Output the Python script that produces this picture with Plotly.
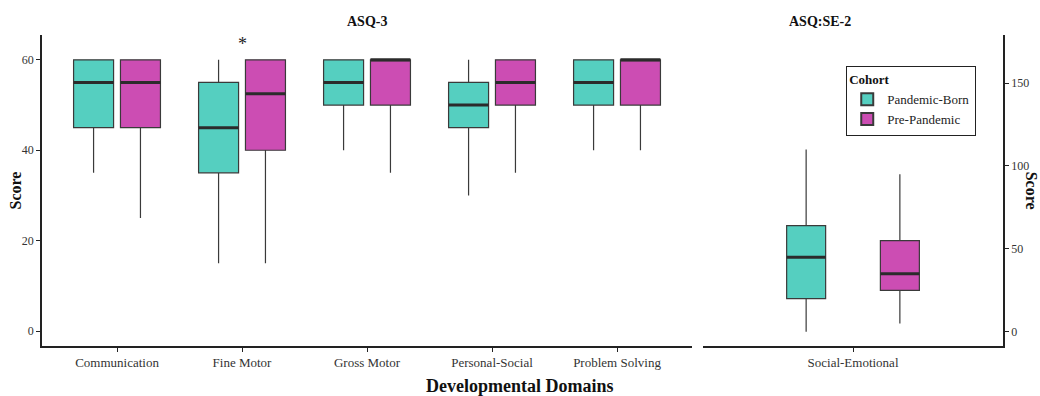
import plotly.graph_objects as go

# ---------------- data ----------------
asq3_domains = ["Communication", "Fine Motor", "Gross Motor", "Personal-Social", "Problem Solving"]
se_domains = ["Social-Emotional"]
cohorts = ["Pandemic-Born", "Pre-Pandemic"]

# ASQ-3 box statistics (per domain)
pb_low = [35, 15, 40, 30, 40]
pb_q1 = [45, 35, 50, 45, 50]
pb_med = [55, 45, 55, 50, 55]
pb_q3 = [60, 55, 60, 55, 60]
pb_high = [60, 60, 60, 60, 60]

pp_low = [25, 15, 35, 35, 40]
pp_q1 = [45, 40, 50, 50, 50]
pp_med = [55, 52.5, 60, 55, 60]
pp_q3 = [60, 60, 60, 60, 60]
pp_high = [60, 60, 60, 60, 60]

# ASQ:SE-2 box statistics
se_pb = dict(low=[0], q1=[20], med=[45], q3=[64], high=[110])
se_pp = dict(low=[5], q1=[25], med=[35], q3=[55], high=[95])

sig_domain = "Fine Motor"
sig_label = "*"

# ---------------- styling ----------------
teal = "#55CFC0"
magenta = "#CC4DB3"
edge = "#3a3a3a"
FONT = "Liberation Serif"
dodge = 0.1875
w_left = 0.32
w_right = 0.156

fig = go.Figure()


def add_boxes(n, stats, name, color, xaxis, yaxis, offset, width, show):
    xs = [i + offset for i in range(n)]
    fig.add_trace(go.Box(
        x=xs, q1=stats["q1"], median=stats["med"], q3=stats["q3"],
        lowerfence=stats["low"], upperfence=stats["high"],
        width=width, whiskerwidth=0, name=name, legendgroup=name,
        showlegend=show, fillcolor=color,
        line=dict(color=edge, width=1.2),
        xaxis=xaxis, yaxis=yaxis, boxpoints=False, hoverinfo="skip",
    ))
    # thicker median segments (ggplot style)
    mx, my = [], []
    for x, m in zip(xs, stats["med"]):
        mx += [x - width / 2, x + width / 2, None]
        my += [m, m, None]
    fig.add_trace(go.Scatter(x=mx, y=my, mode="lines",
                             line=dict(color="#2b2b2b", width=3),
                             showlegend=False, hoverinfo="skip",
                             xaxis=xaxis, yaxis=yaxis))


pb_left = dict(low=pb_low, q1=pb_q1, med=pb_med, q3=pb_q3, high=pb_high)
pp_left = dict(low=pp_low, q1=pp_q1, med=pp_med, q3=pp_q3, high=pp_high)

add_boxes(len(asq3_domains), pb_left, cohorts[0], teal, "x", "y", -dodge, w_left, True)
add_boxes(len(asq3_domains), pp_left, cohorts[1], magenta, "x", "y", dodge, w_left, True)
add_boxes(len(se_domains), se_pb, cohorts[0], teal, "x2", "y2", -dodge, w_right, False)
add_boxes(len(se_domains), se_pp, cohorts[1], magenta, "x2", "y2", dodge, w_right, False)

axis_common = dict(showline=True, linecolor="#222", linewidth=1.5, ticks="outside",
                   ticklen=4, tickcolor="#222", showgrid=False, zeroline=False,
                   automargin=False,
                   tickfont=dict(family=FONT, size=12, color="#333"))
xfont = dict(family=FONT, size=13, color="#333")

fig.update_layout(
    width=1040, height=396,
    margin=dict(l=0, r=0, t=35, b=50),
    paper_bgcolor="white", plot_bgcolor="white",
    font=dict(family=FONT, color="#222"),
    xaxis=dict(domain=[0.0404, 0.6654], range=[-0.6, len(asq3_domains) - 0.4],
               tickvals=list(range(len(asq3_domains))), ticktext=asq3_domains,
               anchor="y", **{**axis_common, "tickfont": xfont}),
    yaxis=dict(range=[-3.3, 65.5], tickvals=[0, 20, 40, 60], anchor="x",
               **axis_common),
    xaxis2=dict(domain=[0.676, 0.9644], range=[-0.6, 0.6],
                tickvals=[0], ticktext=se_domains, anchor="y2",
                **{**axis_common, "tickfont": xfont}),
    yaxis2=dict(range=[-8.6, 179], tickvals=[0, 50, 100, 150], anchor="x2", side="right",
                **axis_common),
    legend=dict(x=0.8135, y=0.90, xanchor="left", yanchor="top",
                bordercolor="#222", borderwidth=1.2, bgcolor="white",
                title=dict(text="<b>Cohort</b>", font=dict(family=FONT, size=13, color="#111")),
                font=dict(family=FONT, size=13, color="#222"),
                tracegroupgap=0, itemsizing="constant"),
    showlegend=True,
)

fig.add_annotation(text="<b>ASQ-3</b>", xref="paper", yref="paper", x=0.353, y=1.0,
                   yshift=23, showarrow=False, font=dict(family=FONT, size=14, color="#111"))
fig.add_annotation(text="<b>ASQ:SE-2</b>", xref="paper", yref="paper", x=0.82, y=1.0,
                   yshift=23, showarrow=False, font=dict(family=FONT, size=14, color="#111"))
fig.add_annotation(text="<b>Developmental Domains</b>", xref="paper", yref="paper", x=0.5,
                   y=0, yshift=-28, yanchor="top", showarrow=False,
                   font=dict(family=FONT, size=18, color="#111"))
fig.add_annotation(text="<b>Score</b>", xref="paper", yref="paper", x=15 / 1040, y=0.5,
                   xanchor="center", textangle=-90, showarrow=False,
                   font=dict(family=FONT, size=16, color="#111"))
fig.add_annotation(text="<b>Score</b>", xref="paper", yref="paper", x=0.982, y=0.5,
                   xanchor="left", textangle=90, showarrow=False,
                   font=dict(family=FONT, size=16, color="#111"))
fig.add_annotation(text=sig_label, x=asq3_domains.index(sig_domain), y=63.5, xref="x", yref="y",
                   showarrow=False, font=dict(family=FONT, size=18, color="#222"))

fig.write_html("out.html", config={"displayModeBar": False},
               post_script="document.body.style.margin='0';")
